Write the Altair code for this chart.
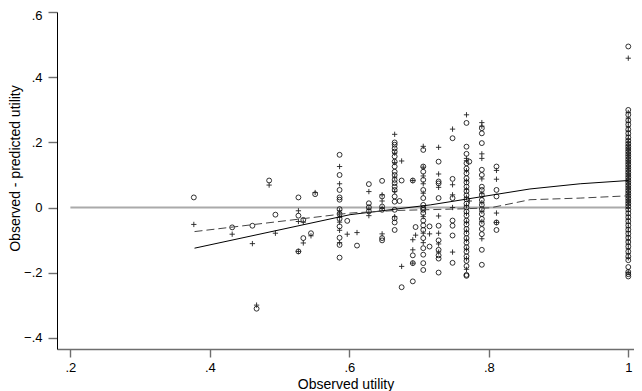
import altair as alt
import pandas as pd

# ---- scatter columns (observed utility) and residuals for the two models ----
col_x = [0.377, 0.432, 0.461, 0.467, 0.485, 0.494, 0.527, 0.534, 0.545, 0.551,
         0.586, 0.597, 0.611, 0.628, 0.647, 0.665, 0.672, 0.675, 0.691, 0.695,
         0.706, 0.715, 0.728, 0.748, 0.768, 0.772, 0.790, 0.811, 1.0]

circle_cols = [
    [0.031], [-0.061], [-0.056], [-0.311], [0.083], [-0.022],
    [0.031, -0.025, -0.135], [-0.038, -0.094], [-0.079], [0.041],
    [0.162, 0.100, 0.054, 0.031, 0.024, -0.005, -0.020, -0.035, -0.058, -0.093, -0.115, -0.154],
    [-0.041], [-0.117], [0.072, 0.013, 0.001, -0.012],
    [0.082, 0.034, 0.003, -0.007, -0.094, -0.101],
    [0.200, 0.193, 0.182, 0.172, 0.157, 0.141, 0.126, 0.110, 0.100, 0.085, 0.075, 0.064,
     0.054, 0.034, 0.018, -0.007, -0.033, -0.046, -0.069],
    [0.020], [0.083, -0.245], [0.083, -0.147, -0.171, -0.227], [-0.060],
    [0.177, 0.126, 0.110, 0.085, 0.054, 0.029, 0.008, -0.002, -0.007, -0.017, -0.040,
     -0.055, -0.069, -0.094, -0.125, -0.145, -0.171, -0.192],
    [-0.058, -0.120],
    [0.141, 0.080, 0.074, 0.029, -0.056, -0.101, -0.130, -0.147, -0.157, -0.200],
    [0.213, 0.088, 0.029, -0.040, -0.056, -0.086, -0.170],
    [0.260, 0.187, 0.165, 0.136, 0.120, 0.105, 0.090, 0.077, 0.064, 0.050, 0.038, 0.025,
     0.012, 0.000, -0.012, -0.025, -0.040, -0.052, -0.066, -0.080, -0.094, -0.108,
     -0.122, -0.136, -0.150, -0.164, -0.180, -0.207, -0.210],
    [0.141],
    [0.244, 0.228, 0.198, 0.116, 0.100, 0.064, 0.054, 0.038, 0.023, 0.008, -0.005,
     -0.020, -0.035, -0.050, -0.066, -0.082, -0.130, -0.176],
    [0.126, 0.054, 0.034, -0.046, -0.069],
    [0.495, 0.300, 0.285, 0.268, 0.255, 0.240, 0.228, 0.215, 0.205, 0.196, 0.188, 0.180,
     0.172, 0.164, 0.156, 0.148, 0.140, 0.132, 0.124, 0.116, 0.108, 0.100, 0.092, 0.084,
     0.076, 0.068, 0.060, 0.052, 0.044, 0.036, 0.028, 0.020, 0.012, 0.004, -0.006,
     -0.018, -0.030, -0.042, -0.055, -0.068, -0.080, -0.093, -0.106, -0.120, -0.135,
     -0.150, -0.162, -0.183, -0.198, -0.205, -0.212],
]

plus_cols = [
    [-0.052], [-0.082], [-0.111], [-0.300], [0.069], [-0.079],
    [-0.010, -0.043, -0.135], [-0.045, -0.109], [-0.087], [0.046],
    [0.126, 0.073, -0.017, -0.010, -0.030, -0.045, -0.070, -0.108],
    [-0.082], [-0.077], [0.049, -0.005, -0.025],
    [0.039, 0.020, -0.002, -0.081],
    [0.225, 0.167, 0.138, 0.093, 0.049, -0.028],
    [], [0.143, -0.181], [0.083, -0.099, -0.130, -0.171], [-0.085],
    [0.188, 0.124, 0.097, 0.073, 0.044, -0.028, -0.079, -0.108],
    [-0.081],
    [0.185, 0.103, 0.062, -0.026, -0.079, -0.112, -0.137],
    [0.241, 0.070, 0.039, 0.000, -0.137],
    [0.285, 0.151, 0.144, 0.113, 0.082, 0.056, 0.031, 0.006, -0.018, -0.045, -0.073,
     -0.100, -0.128, -0.157, -0.190],
    [0.020],
    [0.261, 0.250, 0.165, 0.151, 0.088, 0.044, 0.015, -0.012, -0.043, -0.096],
    [0.114, 0.087, -0.017, -0.046],
    [0.459, 0.292, 0.275, 0.262, 0.248, 0.235, 0.222, 0.210, 0.200, 0.191, 0.183, 0.176,
     0.168, 0.160, 0.152, 0.144, 0.136, 0.128, 0.120, 0.112, 0.104, 0.096, 0.088, 0.080,
     0.072, 0.064, 0.056, 0.048, 0.040, 0.032, 0.024, 0.016, 0.008, -0.002, -0.012,
     -0.024, -0.036, -0.049, -0.062, -0.074, -0.087, -0.100, -0.113, -0.127, -0.142,
     -0.155, -0.200],
]

# ---- smoothed lines ----
solid_x = [0.378, 0.601, 0.716, 0.859, 0.931, 1.0]
solid_y = [-0.125, -0.022, 0.008, 0.057, 0.073, 0.083]
dashed_x = [0.378, 0.601, 0.668, 0.763, 0.802, 0.859, 0.931, 1.0]
dashed_y = [-0.074, -0.017, -0.009, -0.004, -0.001, 0.024, 0.029, 0.036]

zero_line_x = [0.2, 1.0]

x_ticks = [0.2, 0.4, 0.6, 0.8, 1.0]
y_ticks = [-0.4, -0.2, 0.0, 0.2, 0.4, 0.6]
x_domain = [0.1808, 1.0082]
y_domain = [-0.4349, 0.6010]

circ = pd.DataFrame([(x, y) for x, ys in zip(col_x, circle_cols) for y in ys], columns=["x", "y"])
plus = pd.DataFrame([(x, y) for x, ys in zip(col_x, plus_cols) for y in ys], columns=["x", "y"])
solid = pd.DataFrame({"x": solid_x, "y": solid_y})
dashed = pd.DataFrame({"x": dashed_x, "y": dashed_y})
zero = pd.DataFrame({"x": [zero_line_x[0]], "x2": [zero_line_x[1]], "y": [0.0]})

FONT = "Liberation Sans"

xs = alt.Scale(domain=x_domain, nice=False, zero=False)
ys = alt.Scale(domain=y_domain, nice=False, zero=False)

x_axis = alt.Axis(values=x_ticks, title="Observed utility", grid=False,
                  labelExpr="abs(datum.value-1)<1e-9 ? '1' : replace(format(datum.value, '.1f'), '0.', '.')",
                  domainColor="#6e6e6e", domainWidth=1.6, tickColor="#6e6e6e", tickWidth=1.4,
                  tickSize=8, labelPadding=4, labelFontSize=13, labelFont=FONT, labelColor="black",
                  titleFont=FONT, titleFontSize=14, titleFontWeight="normal", titleColor="black",
                  titleBaseline="alphabetic", titleY=39)
y_axis = alt.Axis(values=y_ticks, title="Observed - predicted utility", grid=False,
                  labelExpr="abs(datum.value)<1e-9 ? '0' : replace(format(datum.value, '.1f'), '0.', '.')",
                  labelOffset={"condition": {"test": "datum.value > 0.5", "value": 3}, "value": 0},
                  domainColor="black", domainWidth=1, tickColor="#6e6e6e", tickWidth=1.4,
                  tickSize=9, labelPadding=6, labelFontSize=13, labelFont=FONT, labelColor="black",
                  titleFont=FONT, titleFontSize=14, titleFontWeight="normal", titleColor="black",
                  titleBaseline="alphabetic", titleAngle=-90, titleX=-38, titleY=156,
                  titleAlign="center")

zero_rule = alt.Chart(zero).mark_rule(color="#aaaaaa", strokeWidth=2).encode(
    x=alt.X("x:Q", scale=xs, axis=x_axis), x2="x2:Q",
    y=alt.Y("y:Q", scale=ys, axis=y_axis))

circles = alt.Chart(circ).mark_point(shape="circle", filled=False, color="black",
                                     size=24, strokeWidth=0.8, opacity=1).encode(
    x=alt.X("x:Q", scale=xs), y=alt.Y("y:Q", scale=ys))

pluses = alt.Chart(plus).mark_point(shape="M-1,0L1,0M0,-1L0,1", filled=False, color="#222222",
                                    size=28, strokeWidth=0.9, opacity=1).encode(
    x=alt.X("x:Q", scale=xs), y=alt.Y("y:Q", scale=ys))

solid_line = alt.Chart(solid).mark_line(color="black", strokeWidth=1).encode(
    x=alt.X("x:Q", scale=xs), y=alt.Y("y:Q", scale=ys))

dashed_line = alt.Chart(dashed).mark_line(color="#444444", strokeWidth=1, strokeDash=[8, 4]).encode(
    x=alt.X("x:Q", scale=xs), y=alt.Y("y:Q", scale=ys))

chart = alt.layer(zero_rule, circles, pluses, solid_line, dashed_line).properties(
    width=577, height=337,
    autosize=alt.AutoSizeParams(type="none"),
    padding={"left": 49, "top": 4, "right": 0, "bottom": 42},
    background="white",
).configure_view(stroke=None)

chart.save("out.html", embed_options={"renderer": "svg", "actions": False})
